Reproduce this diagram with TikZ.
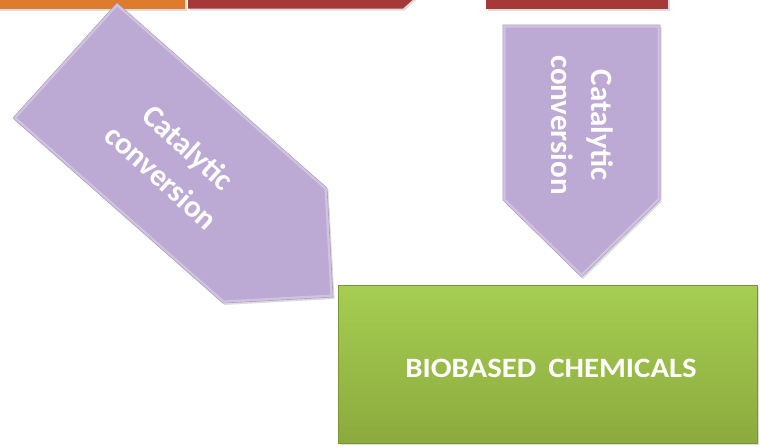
\documentclass[tikz,border=0pt]{standalone}
\usepackage{fontspec}
\setmainfont{Carlito}
\usetikzlibrary{shadows}

\definecolor{orangebar}{RGB}{221,124,44}
\definecolor{redbar}{RGB}{164,57,56}
\definecolor{lilac}{RGB}{189,170,212}
\definecolor{lilacedge}{RGB}{160,140,186}
\definecolor{greentop}{RGB}{166,206,82}
\definecolor{greenbot}{RGB}{140,170,62}
\definecolor{greenedge}{RGB}{120,150,50}

\tikzset{
  softshadow/.style={drop shadow={opacity=0.28, shadow xshift=1.5pt, shadow yshift=-2pt}},
  pentagon/.style={fill=lilac, draw=lilacedge, line width=0.6pt, line join=round, softshadow},
  bevel/.style={draw=white, draw opacity=0.3, line width=5pt, line join=round},
  arrowtext/.style={text=white, font=\fontsize{31}{40}\selectfont\bfseries, align=center},
  resultbox/.style={draw=greenedge, line width=0.6pt, top color=greentop, bottom color=greenbot,
    softshadow, minimum width=419pt, minimum height=158pt, inner sep=0pt},
  boxtext/.style={text=white, font=\fontsize{28}{34}\selectfont\bfseries, inner sep=0pt},
}

\begin{document}
\begin{tikzpicture}[x=1pt, y=-1pt]
\useasboundingbox (0,0) rectangle (761,447);
\clip (0,0) rectangle (761,447);

% feedstock boxes above, cut off by the top edge
\fill[orangebar, softshadow] (-10,-20) rectangle (185,8.5);
\fill[redbar, softshadow] (188,-20) -- (435,-20) -- (403,8.5) -- (188,8.5) -- cycle;
\fill[redbar, softshadow] (486,-20) rectangle (668,9);

% diagonal conversion arrow
\draw[pentagon] (117,3) -- (327,188) -- (333,297) -- (223,303) -- (13,118) -- cycle;
\begin{scope}
  \clip (117,3) -- (327,188) -- (333,297) -- (223,303) -- (13,118) -- cycle;
  \draw[bevel] (117,3) -- (327,188) -- (333,297) -- (223,303) -- (13,118) -- cycle;
\end{scope}
\node[arrowtext, rotate=-42] (leftlabel) at (175,162) {Catalytic\\conversion};

% vertical conversion arrow
\draw[pentagon] (503,25) -- (660,25) -- (660,200) -- (581.5,277) -- (503,200) -- cycle;
\begin{scope}
  \clip (503,25) -- (660,25) -- (660,200) -- (581.5,277) -- (503,200) -- cycle;
  \draw[bevel] (503,25) -- (660,25) -- (660,200) -- (581.5,277) -- (503,200) -- cycle;
\end{scope}
\node[arrowtext, rotate=-90] (rightlabel) at (582,125) {Catalytic\\conversion};

% product
\node[resultbox] (product) at (547.5,364) {};
\node[boxtext] (productlabel) at (551,368.5) {\scalebox{1.1}[1]{BIOBASED\, CHEMICALS}};
\end{tikzpicture}
\end{document}
